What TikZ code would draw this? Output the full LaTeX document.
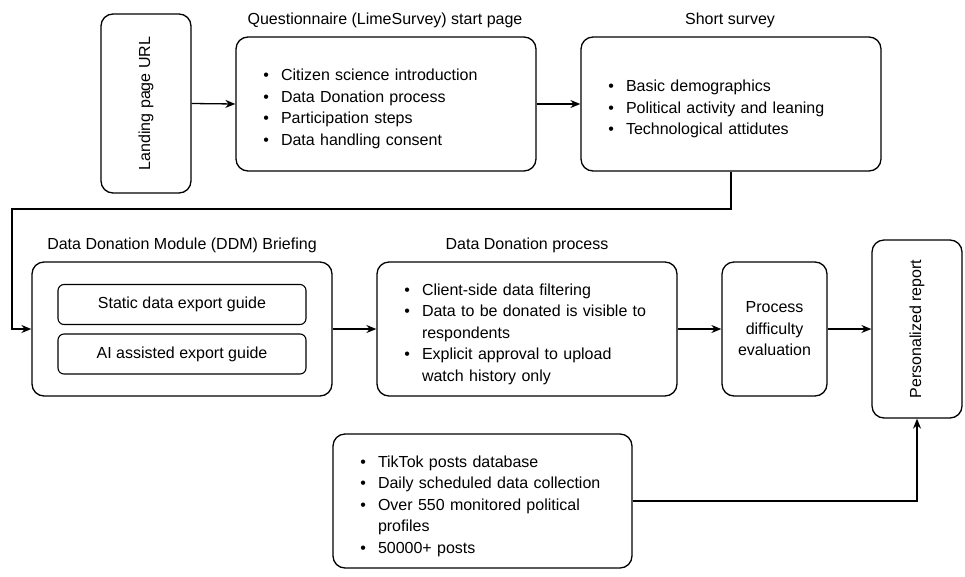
\documentclass[tikz,border=0pt]{standalone}
\usepackage{fontspec}
\setmainfont{Liberation Sans}
\usepackage{enumitem}
\setlist[itemize]{nosep,leftmargin=23pt,labelsep=12pt,label=\textbullet}
\usetikzlibrary{arrows.meta,positioning}

\tikzset{
  box/.style={draw,line width=1.3pt,rounded corners=12pt,inner xsep=22pt,inner ysep=6pt,align=left},
  guide/.style={draw,line width=1.1pt,rounded corners=6pt,minimum width=248pt,minimum height=40pt},
  title/.style={inner sep=0pt},
  flow/.style={line width=1.3pt,-{Stealth[length=10pt,width=8pt]}}
}

\begin{document}
\fontsize{16pt}{21.5pt}\selectfont
\begin{tikzpicture}[x=1pt,y=-1pt]
\useasboundingbox (0,0) rectangle (965,576);

% first row
\node[box,inner xsep=6pt,minimum width=179pt,minimum height=90pt,rotate=90] (land) at (146,103.5) {Landing page URL};
\node[box,minimum width=300pt,minimum height=134pt,text width=256pt] (start) at (386,104) {%
\begin{itemize}
\item Citizen science introduction
\item Data Donation process
\item Participation steps
\item Data handling consent
\end{itemize}};
\node[title] at (385,20) {Questionnaire (LimeSurvey) start page};
\node[box,minimum width=300pt,minimum height=134pt,text width=256pt] (survey) at (731,104) {%
\begin{itemize}
\item Basic demographics
\item Political activity and leaning
\item Technological attidutes
\end{itemize}};
\node[title] at (730,20) {Short survey};

% second row
\node[box,minimum width=300pt,minimum height=134pt] (ddm) at (182,329) {};
\node[guide] (static) at (182,304.5) {Static data export guide};
\node[guide] (ai) at (182,354) {AI assisted export guide};
\node[title] at (182,245) {Data Donation Module (DDM) Briefing};
\node[box,minimum width=300pt,minimum height=134pt,text width=256pt] (ddp) at (527,329) {%
\begin{itemize}
\item Client-side data filtering
\item Data to be donated is visible to respondents
\item Explicit approval to upload watch history only
\end{itemize}};
\node[title] at (527,245) {Data Donation process};
\node[box,inner xsep=6pt,minimum width=105pt,minimum height=134pt,align=center] (diff) at (774.5,329) {Process\\difficulty\\evaluation};
\node[box,inner xsep=6pt,minimum width=178pt,minimum height=90pt,rotate=90] (report) at (917,329) {Personalized report};

% database
\node[box,minimum width=299pt,minimum height=134pt,text width=255pt] (tiktok) at (482.5,501) {%
\begin{itemize}
\item TikTok posts database
\item Daily scheduled data collection
\item Over 550 monitored political profiles
\item 50000+ posts
\end{itemize}};

% connectors
\coordinate (bend) at (12,209);
\draw[flow] (land.south) -- (start.west);
\draw[flow] (start.east) -- (survey.west);
\draw[flow] (survey.south) |- (bend) |- (ddm.west);
\draw[flow] (ddm.east) -- (ddp.west);
\draw[flow] (ddp.east) -- (diff.west);
\draw[flow] (diff.east) -- (report.north);
\draw[flow] (tiktok.east) -| (report.west);
\end{tikzpicture}
\end{document}
